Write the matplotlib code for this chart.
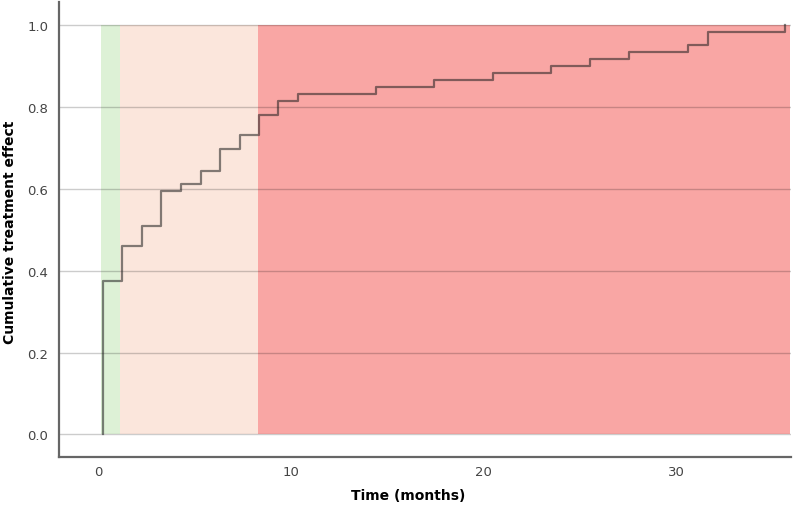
import matplotlib
matplotlib.use("Agg")
import matplotlib.pyplot as plt
import numpy as np

# Step-function data (time in months, cumulative treatment effect)
times = [0.27, 1.25, 2.29, 3.29, 4.29, 5.32, 6.34, 7.34, 8.34, 9.35, 10.39,
         14.4, 17.4, 20.5, 23.5, 25.5, 27.5, 30.6, 31.6, 35.6]
effect = [0.374, 0.46, 0.51, 0.594, 0.612, 0.644, 0.696, 0.731, 0.780, 0.815,
          0.832, 0.849, 0.866, 0.883, 0.899, 0.916, 0.934, 0.950, 0.984, 1.0]

# Shaded phases (months)
band_edges = [0.15, 1.15, 8.30, 35.85]
band_colors = ["#ddf1d6", "#fbe6dc", "#f9a6a4"]

xticks = [0, 10, 20, 30]
yticks = [0.0, 0.2, 0.4, 0.6, 0.8, 1.0]

fig = plt.figure(figsize=(7.94, 5.10), dpi=100)
ax = fig.add_axes([0.0747, 0.102, 0.921, 0.892])

for i, c in enumerate(band_colors):
    ax.fill_between([band_edges[i], band_edges[i + 1]], 0, 1, color=c, lw=0, zorder=0)

for y in yticks:
    ax.axhline(y, color="black", alpha=0.2, lw=1.0, zorder=1)

line_kw = dict(color="#1e1e1e", alpha=0.55, lw=1.6, zorder=2)
# step curve: vertical rise from 0 at first event, then post-steps, final rise
xs = [times[0]]
ys = [0.0]
for i in range(len(times)):
    xs.append(times[i])
    ys.append(effect[i])
    if i + 1 < len(times):
        xs.append(times[i + 1])
        ys.append(effect[i])
ax.plot(xs, ys, **line_kw)

ax.set_xlim(-2.0, 35.9)
ax.set_ylim(-0.055, 1.056)
ax.set_xticks(xticks)
ax.set_xticklabels([str(x) for x in xticks])
ax.set_yticks(yticks)
ax.set_yticklabels([f"{y:.1f}" for y in yticks])
ax.tick_params(axis="x", length=0, labelsize=9.5, colors="#444444", pad=6)
ax.tick_params(axis="y", length=0, labelsize=9.5, colors="#444444", pad=8)

for s in ["top", "right"]:
    ax.spines[s].set_visible(False)
for s in ["left", "bottom"]:
    ax.spines[s].set_color("#666666")
    ax.spines[s].set_linewidth(1.6)

fig.text(408 / 794, 1 - 496 / 510, "Time (months)", fontsize=10, fontweight="bold",
         ha="center", va="center")
fig.text(10 / 794, 1 - 232 / 510, "Cumulative treatment effect", fontsize=10,
         fontweight="bold", ha="center", va="center", rotation=90)

fig.savefig("out.png", dpi=100)
